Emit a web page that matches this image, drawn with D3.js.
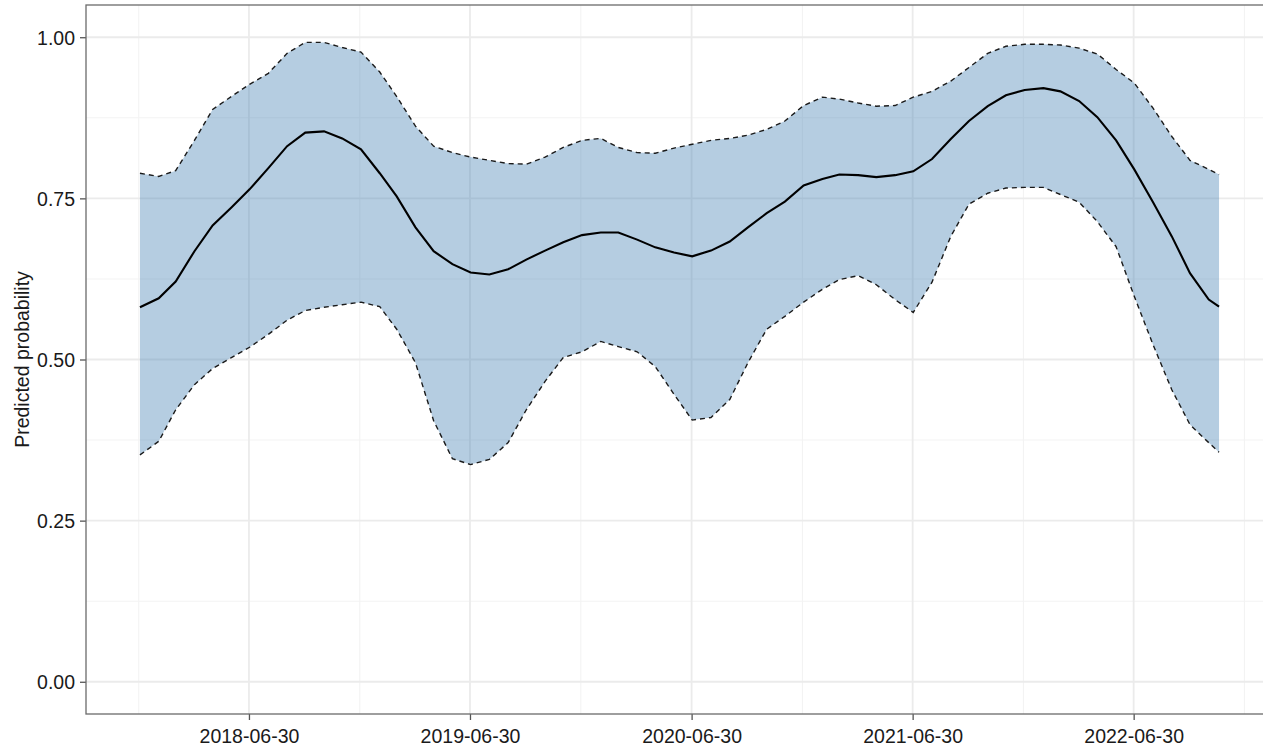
<!DOCTYPE html>
<html>
<head>
<meta charset="utf-8">
<script src="https://cdn.jsdelivr.net/npm/d3@7"></script>
<style>
  html, body { margin: 0; padding: 0; background: #fff; }
  svg { display: block; }
  text { font-family: "Liberation Sans", Arial, Helvetica, sans-serif; fill: #1a1a1a; }
</style>
</head>
<body>
<svg id="chart"></svg>
<script>
// monthly dates (plus the last observation)
const dates = [
  "2018-01-01","2018-02-01","2018-03-01","2018-04-01","2018-05-01","2018-06-01",
  "2018-07-01","2018-08-01","2018-09-01","2018-10-01","2018-11-01","2018-12-01",
  "2019-01-01","2019-02-01","2019-03-01","2019-04-01","2019-05-01","2019-06-01",
  "2019-07-01","2019-08-01","2019-09-01","2019-10-01","2019-11-01","2019-12-01",
  "2020-01-01","2020-02-01","2020-03-01","2020-04-01","2020-05-01","2020-06-01",
  "2020-07-01","2020-08-01","2020-09-01","2020-10-01","2020-11-01","2020-12-01",
  "2021-01-01","2021-02-01","2021-03-01","2021-04-01","2021-05-01","2021-06-01",
  "2021-07-01","2021-08-01","2021-09-01","2021-10-01","2021-11-01","2021-12-01",
  "2022-01-01","2022-02-01","2022-03-01","2022-04-01","2022-05-01","2022-06-01",
  "2022-07-01","2022-08-01","2022-09-01","2022-10-01","2022-11-01","2022-11-18"
];

const estimate = [
  0.581, 0.595, 0.621, 0.668, 0.708, 0.736,
  0.764, 0.797, 0.831, 0.852, 0.854, 0.843,
  0.826, 0.789, 0.753, 0.705, 0.668, 0.648,
  0.635, 0.632, 0.640, 0.655, 0.669, 0.682,
  0.693, 0.697, 0.697, 0.686, 0.674, 0.666,
  0.660, 0.669, 0.683, 0.705, 0.727, 0.745,
  0.770, 0.780, 0.787, 0.786, 0.783, 0.786,
  0.792, 0.811, 0.842, 0.870, 0.893, 0.910,
  0.918, 0.921, 0.916, 0.901, 0.876, 0.840,
  0.795, 0.744, 0.691, 0.634, 0.593, 0.582
];

const upper = [
  0.789, 0.784, 0.793, 0.840, 0.888, 0.908,
  0.927, 0.944, 0.975, 0.992, 0.992, 0.984,
  0.977, 0.946, 0.908, 0.862, 0.831, 0.821,
  0.814, 0.809, 0.804, 0.803, 0.814, 0.829,
  0.840, 0.843, 0.829, 0.821, 0.820, 0.828,
  0.834, 0.840, 0.843, 0.848, 0.857, 0.870,
  0.894, 0.907, 0.904, 0.898, 0.893, 0.894,
  0.907, 0.916, 0.932, 0.953, 0.975, 0.986,
  0.989, 0.989, 0.988, 0.983, 0.974, 0.950,
  0.929, 0.890, 0.846, 0.809, 0.795, 0.787
];

const lower = [
  0.352, 0.373, 0.422, 0.461, 0.486, 0.503,
  0.519, 0.539, 0.561, 0.576, 0.581, 0.585,
  0.589, 0.582, 0.547, 0.495, 0.405, 0.346,
  0.337, 0.345, 0.371, 0.422, 0.466, 0.503,
  0.512, 0.528, 0.520, 0.512, 0.489, 0.446,
  0.406, 0.410, 0.438, 0.495, 0.547, 0.567,
  0.589, 0.609, 0.624, 0.630, 0.616, 0.593,
  0.573, 0.620, 0.691, 0.741, 0.758, 0.766,
  0.767, 0.767, 0.756, 0.744, 0.714, 0.675,
  0.598, 0.523, 0.453, 0.399, 0.371, 0.356
];

const yTicks = [0, 0.25, 0.5, 0.75, 1];
const yMinor = [0.125, 0.375, 0.625, 0.875];
const xTicks = ["2018-06-30", "2019-06-30", "2020-06-30", "2021-06-30", "2022-06-30"];
const xMinor = ["2017-12-30", "2018-12-30", "2019-12-30", "2020-12-30", "2021-12-30", "2022-12-30"];

const width = 1263, height = 748;
const margin = { left: 86, top: 5, bottom: 34 };
const parse = d3.timeParse("%Y-%m-%d");

const rows = dates.map((d, i) => ({ date: parse(d), est: estimate[i], lo: lower[i], hi: upper[i] }));

// ggplot style 5% expansion on the date axis
const ext = d3.extent(rows, d => d.date);
const pad = (ext[1] - ext[0]) * 0.05;
const x = d3.scaleTime()
  .domain([new Date(+ext[0] - pad), new Date(+ext[1] + pad)])
  .range([margin.left, 1273]);

const y = d3.scaleLinear()
  .domain([-0.05, 1.05])
  .range([height - margin.bottom, margin.top]);

const svg = d3.select("#chart")
  .attr("width", width)
  .attr("height", height);

const grid = svg.append("g");

// minor grid
grid.selectAll(".ym").data(yMinor).enter().append("line")
  .attr("x1", margin.left).attr("x2", 1273)
  .attr("y1", d => y(d)).attr("y2", d => y(d))
  .style("stroke", "#f3f3f3").style("stroke-width", 1.1);
grid.selectAll(".xm").data(xMinor).enter().append("line")
  .attr("x1", d => x(parse(d))).attr("x2", d => x(parse(d)))
  .attr("y1", y.range()[0]).attr("y2", y.range()[1])
  .style("stroke", "#f3f3f3").style("stroke-width", 1.1);

// major grid
grid.selectAll(".yM").data(yTicks).enter().append("line")
  .attr("x1", margin.left).attr("x2", 1273)
  .attr("y1", d => y(d)).attr("y2", d => y(d))
  .style("stroke", "#ebebeb").style("stroke-width", 1.8);
grid.selectAll(".xM").data(xTicks).enter().append("line")
  .attr("x1", d => x(parse(d))).attr("x2", d => x(parse(d)))
  .attr("y1", y.range()[0]).attr("y2", y.range()[1])
  .style("stroke", "#ebebeb").style("stroke-width", 1.8);

// ribbon
const area = d3.area()
  .x(d => x(d.date))
  .y0(d => y(d.lo))
  .y1(d => y(d.hi));

svg.append("path")
  .datum(rows)
  .attr("d", area)
  .style("fill", "rgb(70,130,180)")
  .style("fill-opacity", 0.4)
  .style("stroke", "none");

const boundLine = key => d3.line().x(d => x(d.date)).y(d => y(d[key]));

["lo", "hi"].forEach(k => {
  svg.append("path")
    .datum(rows)
    .attr("d", boundLine(k))
    .style("fill", "none")
    .style("stroke", "#1a1a1a")
    .style("stroke-width", 1.4)
    .style("stroke-dasharray", "5,4");
});

svg.append("path")
  .datum(rows)
  .attr("d", boundLine("est"))
  .style("fill", "none")
  .style("stroke", "#000")
  .style("stroke-width", 2.1);

// axes
const xAxis = svg.append("g")
  .attr("transform", `translate(0,${height - margin.bottom})`)
  .call(d3.axisBottom(x)
    .tickValues(xTicks.map(parse))
    .tickFormat(d3.timeFormat("%Y-%m-%d"))
    .tickSize(6).tickSizeOuter(0));

const yAxis = svg.append("g")
  .attr("transform", `translate(${margin.left},0)`)
  .call(d3.axisLeft(y)
    .tickValues(yTicks)
    .tickFormat(d3.format(".2f"))
    .tickSize(6).tickSizeOuter(0));

[xAxis, yAxis].forEach(a => {
  a.select(".domain").remove();
  a.selectAll(".tick line").style("stroke", "#555").style("stroke-width", 1.3);
  a.selectAll("text").style("font-size", "19.5px").style("fill", "#1a1a1a");
});
xAxis.selectAll("text").attr("dy", null).attr("y", 29);
yAxis.selectAll("text").attr("x", -11).attr("dy", "0.36em");

// panel border (right side falls outside the window)
svg.append("rect")
  .attr("x", margin.left).attr("y", margin.top)
  .attr("width", 1273 - margin.left)
  .attr("height", height - margin.bottom - margin.top)
  .style("fill", "none")
  .style("stroke", "#6b6b6b")
  .style("stroke-width", 1.3);

svg.append("text")
  .attr("transform", `translate(29,${y(0.5)}) rotate(-90)`)
  .attr("text-anchor", "middle")
  .style("font-size", "19.5px")
  .text("Predicted probability");
</script>
</body>
</html>
